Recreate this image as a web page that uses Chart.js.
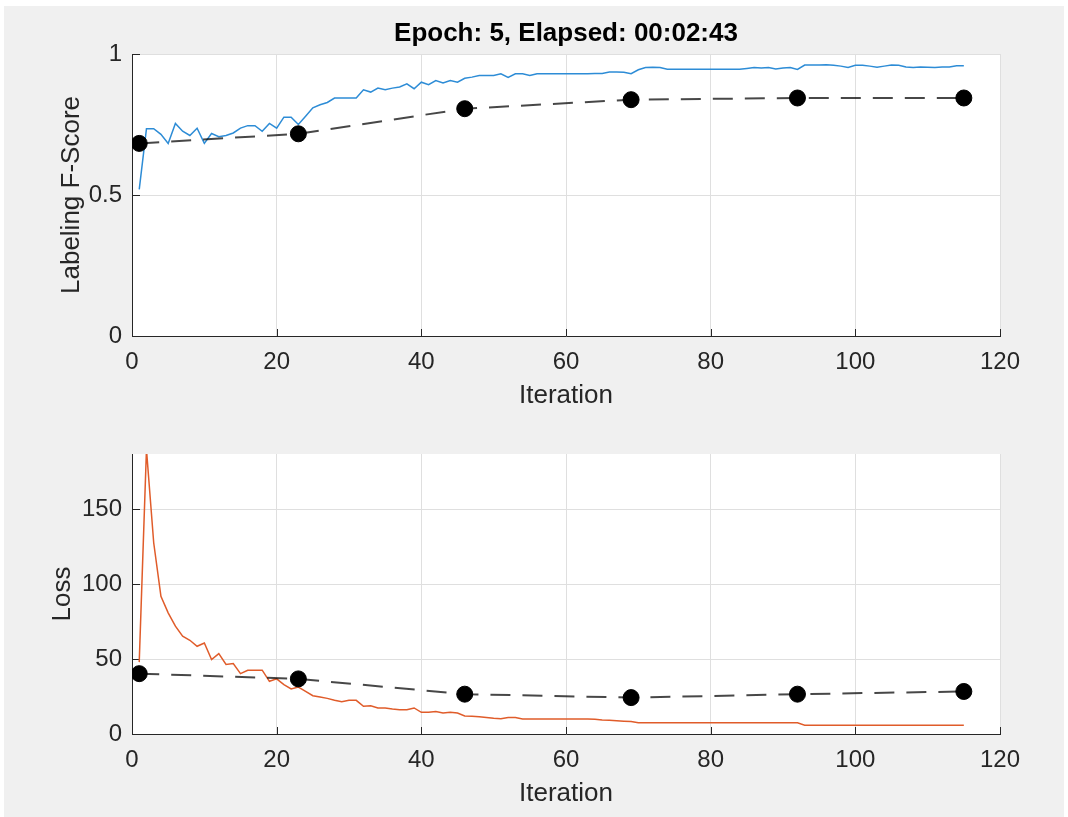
<!DOCTYPE html>
<html>
<head>
<meta charset="utf-8">
<script src="https://cdn.jsdelivr.net/npm/chart.js@4.4.1/dist/chart.umd.min.js"></script>
<style>
  html, body { margin: 0; padding: 0; background: #ffffff; }
  #frame { position: absolute; left: 4px; top: 6px; width: 1060px; height: 811px; background: #f0f0f0; }
  .box { position: absolute; left: 0; width: 1068px; }
</style>
</head>
<body>
<div id="frame"></div>
<div class="box" style="top:0;height:420px"><canvas id="scoreChart"></canvas></div>
<div class="box" style="top:420px;height:397px"><canvas id="lossChart"></canvas></div>
<script>
// training curves, one value per iteration (1..115)
const fscoreTrain = [
  0.52, 0.735, 0.735, 0.715, 0.683, 0.754, 0.726, 0.711, 0.737, 0.683,
  0.718, 0.707, 0.711, 0.720, 0.737, 0.746, 0.746, 0.726, 0.754, 0.737,
  0.776, 0.776, 0.750, 0.779, 0.809, 0.820, 0.828, 0.844, 0.844, 0.844,
  0.844, 0.873, 0.865, 0.879, 0.873, 0.879, 0.883, 0.894, 0.877, 0.900,
  0.891, 0.906, 0.897, 0.906, 0.900, 0.914, 0.918, 0.924, 0.924, 0.924,
  0.930, 0.917, 0.930, 0.930, 0.924, 0.930, 0.930, 0.930, 0.930, 0.930,
  0.930, 0.930, 0.930, 0.931, 0.931, 0.936, 0.936, 0.935, 0.930, 0.944,
  0.952, 0.953, 0.952, 0.946, 0.946, 0.946, 0.946, 0.946, 0.946, 0.946,
  0.946, 0.946, 0.946, 0.946, 0.949, 0.952, 0.950, 0.952, 0.947, 0.950,
  0.952, 0.945, 0.961, 0.961, 0.961, 0.962, 0.960, 0.957, 0.952, 0.960,
  0.960, 0.957, 0.953, 0.957, 0.961, 0.960, 0.954, 0.952, 0.954, 0.953,
  0.952, 0.954, 0.954, 0.958, 0.958
];
const lossTrain = [
  48, 190, 127.7, 92, 80.9, 72, 65.3, 62.6, 58.6, 60.8,
  49.7, 53.7, 46.4, 47, 40.3, 42.6, 42.6, 42.6, 35.2, 36.8,
  33, 30.1, 31.4, 28.5, 25.6, 24.7, 23.8, 22.5, 21.6, 22.5,
  22.5, 18.5, 18.9, 17.4, 17.4, 16.7, 16.2, 16.2, 17.4, 14.5,
  14.5, 15, 14, 14.5, 14, 12, 11.8, 11.5, 11, 10.5,
  10.2, 11, 11, 10, 10, 10, 10, 10, 10, 10,
  10, 10, 10, 9.8, 9.3, 9.2, 8.8, 8.5, 8.3, 7.5,
  7.5, 7.5, 7.5, 7.5, 7.5, 7.5, 7.5, 7.5, 7.5, 7.5,
  7.5, 7.5, 7.5, 7.5, 7.5, 7.5, 7.5, 7.5, 7.5, 7.5,
  7.5, 7.5, 5.9, 5.9, 5.9, 5.9, 5.9, 5.9, 5.9, 5.9,
  5.9, 5.9, 5.9, 5.9, 5.9, 5.9, 5.9, 5.9, 5.9, 5.9,
  5.9, 5.9, 5.9, 5.9, 5.9
];

// validation checkpoints
const valIters = [1, 23, 46, 69, 92, 115];
const fscoreVal = [0.683, 0.717, 0.806, 0.838, 0.844, 0.844];
const lossVal = [40.3, 36.8, 26.6, 24.3, 26.6, 28.4];

const xTicks = [0, 20, 40, 60, 80, 100, 120];
const fscoreTicks = [0, 0.5, 1];
const lossTicks = [0, 50, 100, 150];

const fam = "'Liberation Sans', Arial, sans-serif";
const axisColor = '#262626';
const gridColor = '#dfdfdf';

//white plot area
const plotBackground = {
    id: 'plotBackground',
    beforeDraw: chart => {
        const {ctx, chartArea: a} = chart;
        ctx.save();
        ctx.fillStyle = '#ffffff';
        ctx.fillRect(a.left, a.top, a.right - a.left, a.bottom - a.top);
        ctx.restore();
    }
};

//matlab style inward tick marks
const innerTicks = {
    id: 'innerTicks',
    beforeDatasetsDraw: chart => {
        const {ctx, chartArea: a, scales} = chart;
        ctx.save();
        ctx.strokeStyle = axisColor;
        ctx.lineWidth = 1;
        ctx.beginPath();
        scales.x.ticks.forEach(t => {
            const px = Math.round(scales.x.getPixelForValue(t.value)) + 0.5;
            ctx.moveTo(px, a.bottom);
            ctx.lineTo(px, a.bottom - 7);
        });
        scales.y.ticks.forEach(t => {
            const py = Math.round(scales.y.getPixelForValue(t.value)) + 0.5;
            ctx.moveTo(a.left, py);
            ctx.lineTo(a.left + 8, py);
        });
        ctx.stroke();
        ctx.restore();
    }
};

function keepTicks(list) {
    return scale => { scale.ticks = list.map(v => ({value: v})); };
}

function makeConfig(opts) {
    return {
        type: 'line',
        data: {
            datasets: [{
                label: 'Validation',
                data: valIters.map((it, i) => ({x: it, y: opts.val[i]})),
                borderColor: 'rgba(0,0,0,0.72)',
                borderWidth: 2,
                borderDash: [20, 12],
                pointRadius: 8,
                pointBackgroundColor: '#000',
                pointBorderColor: '#000',
                pointBorderWidth: 1
            },
            {
                label: 'Training',
                data: opts.train.map((v, i) => ({x: i + 1, y: v})),
                borderColor: opts.color,
                borderWidth: 1.5,
                pointRadius: 0,
                tension: 0
            }]
        },
        options: {
            responsive: true,
            maintainAspectRatio: false,
            animation: false,
            layout: { padding: { left: 0, right: 68, top: opts.padTop, bottom: 0 } },
            scales: {
                x: {
                    type: 'linear',
                    min: 0,
                    max: 120,
                    afterBuildTicks: keepTicks(xTicks),
                    afterFit: s => { s.height = opts.xHeight; },
                    grid: { color: gridColor, drawTicks: false },
                    border: { color: axisColor, width: 1 },
                    ticks: {
                        autoSkip: false,
                        maxRotation: 0,
                        padding: 12,
                        color: axisColor,
                        font: { family: fam, size: 24 }
                    },
                    title: {
                        display: true,
                        text: 'Iteration',
                        color: axisColor,
                        font: { family: fam, size: 26 },
                        padding: { top: 0, bottom: opts.xTitlePad }
                    }
                },
                y: {
                    type: 'linear',
                    min: opts.yMin,
                    max: opts.yMax,
                    afterBuildTicks: keepTicks(opts.yTicks),
                    afterFit: s => { s.width = 132; },
                    grid: { color: gridColor, drawTicks: false },
                    border: { color: axisColor, width: 1 },
                    ticks: {
                        padding: 10,
                        color: axisColor,
                        font: { family: fam, size: 24 },
                        callback: v => String(v)
                    },
                    title: {
                        display: true,
                        text: opts.yLabel,
                        color: axisColor,
                        font: { family: fam, size: 26 },
                        padding: { top: opts.yTitlePad, bottom: 0 }
                    }
                }
            },
            plugins: {
                legend: { display: false },
                tooltip: { enabled: false },
                title: opts.title
            }
        },
        plugins: [plotBackground, innerTicks]
    };
}

new Chart(document.getElementById('scoreChart'), makeConfig({
    train: fscoreTrain,
    val: fscoreVal,
    color: 'rgb(45,140,214)',
    yMin: 0,
    yMax: 1,
    yTicks: fscoreTicks,
    yLabel: 'Labeling F-Score',
    yTitlePad: 56,
    padTop: 0,
    xHeight: 84,
    xTitlePad: 8.4,
    title: {
        display: true,
        fullSize: false,
        text: 'Epoch: 5, Elapsed: 00:02:43',
        color: '#000',
        font: { family: fam, size: 26, weight: 'bold' },
        padding: { top: 18, bottom: 4.8 }
    }
}));

new Chart(document.getElementById('lossChart'), makeConfig({
    train: lossTrain,
    val: lossVal,
    color: 'rgb(224,92,42)',
    yMin: 0,
    yMax: 187,
    yTicks: lossTicks,
    yLabel: 'Loss',
    yTitlePad: 47,
    padTop: 34,
    xHeight: 83,
    xTitlePad: 7.4,
    title: { display: false }
}));
</script>
</body>
</html>
